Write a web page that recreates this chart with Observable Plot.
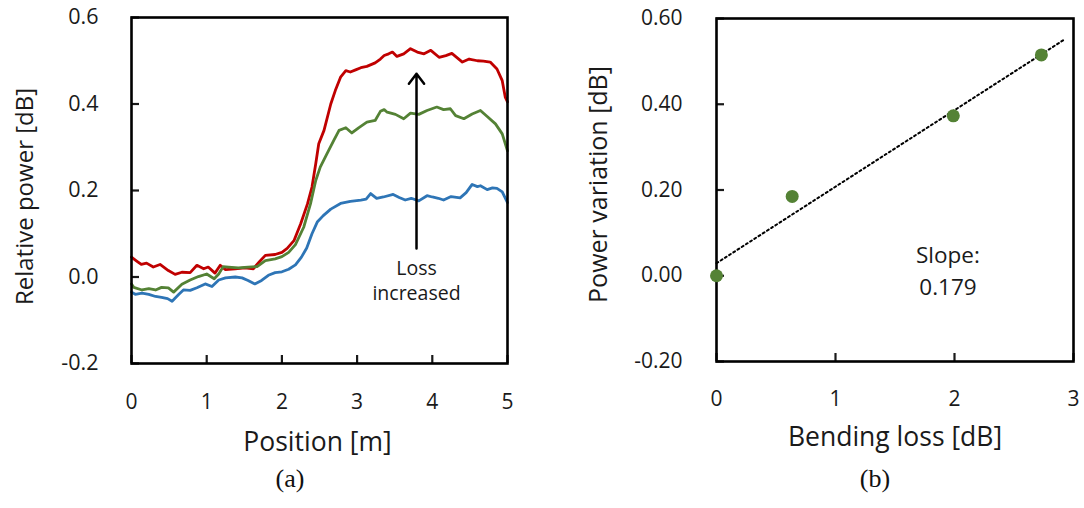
<!DOCTYPE html>
<html>
<head>
<meta charset="utf-8">
<script src="https://cdn.jsdelivr.net/npm/d3@7"></script>
<script src="https://cdn.jsdelivr.net/npm/@observablehq/plot@0.6"></script>
<style>
  body { margin: 0; background: #fff; }
  #wrap { position: relative; width: 1084px; height: 508px; overflow: hidden; background: #fff; }
  #a { position: absolute; left: 0; top: 0; }
  #b { position: absolute; left: 540px; top: 0; }
  .cap { position: absolute; top: 464px; font-family: "Liberation Serif", "Times New Roman", serif; font-size: 26px; line-height: 30px; color: #111; transform: translateX(-50%); }
</style>
</head>
<body>
<div id="wrap">
  <div id="a"></div>
  <div id="b"></div>
  <div class="cap" style="left:290px">(a)</div>
  <div class="cap" style="left:875px">(b)</div>
</div>
<script>
// ---------- Panel (a): relative power vs position ----------
const redX = [0, 0.06, 0.13, 0.2, 0.29, 0.38, 0.49, 0.58, 0.67, 0.78, 0.87, 0.96, 1.02, 1.11, 1.18, 1.25, 1.38, 1.51, 1.62, 1.71, 1.78, 1.91, 2.0, 2.07, 2.16, 2.25, 2.34, 2.4, 2.45, 2.49, 2.56, 2.65, 2.71, 2.78, 2.85, 2.91, 2.98, 3.05, 3.13, 3.24, 3.31, 3.36, 3.42, 3.47, 3.53, 3.62, 3.71, 3.8, 3.89, 3.98, 4.09, 4.18, 4.26, 4.4, 4.49, 4.6, 4.68, 4.77, 4.86, 4.93, 4.97, 5.0];
const redY = [0.046, 0.038, 0.029, 0.032, 0.023, 0.029, 0.015, 0.006, 0.011, 0.01, 0.027, 0.019, 0.023, 0.009, 0.027, 0.017, 0.019, 0.021, 0.019, 0.037, 0.05, 0.052, 0.057, 0.066, 0.084, 0.123, 0.169, 0.208, 0.262, 0.308, 0.339, 0.4, 0.431, 0.462, 0.477, 0.474, 0.479, 0.484, 0.487, 0.495, 0.504, 0.512, 0.516, 0.52, 0.51, 0.516, 0.528, 0.52, 0.516, 0.524, 0.508, 0.512, 0.517, 0.497, 0.504, 0.5, 0.499, 0.497, 0.481, 0.454, 0.416, 0.405];

const greenX = [0, 0.03, 0.14, 0.23, 0.32, 0.4, 0.49, 0.56, 0.67, 0.78, 0.89, 1.0, 1.1, 1.16, 1.22, 1.29, 1.42, 1.55, 1.67, 1.78, 1.91, 2.0, 2.09, 2.18, 2.29, 2.38, 2.45, 2.51, 2.6, 2.69, 2.76, 2.85, 2.93, 3.02, 3.13, 3.24, 3.31, 3.36, 3.4, 3.51, 3.62, 3.71, 3.82, 3.93, 4.06, 4.15, 4.24, 4.31, 4.42, 4.53, 4.64, 4.73, 4.84, 4.93, 5.0];
const greenY = [-0.016, -0.024, -0.03, -0.027, -0.03, -0.024, -0.025, -0.035, -0.017, -0.007, 0.001, 0.007, -0.004, 0.007, 0.024, 0.023, 0.021, 0.023, 0.024, 0.038, 0.042, 0.047, 0.057, 0.075, 0.115, 0.169, 0.223, 0.254, 0.285, 0.316, 0.339, 0.345, 0.333, 0.345, 0.358, 0.362, 0.383, 0.387, 0.381, 0.376, 0.366, 0.379, 0.376, 0.385, 0.393, 0.387, 0.389, 0.373, 0.366, 0.377, 0.385, 0.371, 0.354, 0.331, 0.292];

const blueX = [0, 0.05, 0.14, 0.23, 0.32, 0.4, 0.48, 0.54, 0.63, 0.69, 0.78, 0.87, 0.98, 1.07, 1.16, 1.25, 1.38, 1.47, 1.55, 1.64, 1.73, 1.82, 1.91, 2.0, 2.09, 2.18, 2.26, 2.33, 2.4, 2.47, 2.55, 2.65, 2.78, 2.91, 3.05, 3.12, 3.18, 3.26, 3.35, 3.48, 3.56, 3.64, 3.72, 3.82, 3.93, 4.0, 4.08, 4.15, 4.25, 4.37, 4.45, 4.53, 4.6, 4.64, 4.73, 4.8, 4.86, 4.93, 5.0];
const blueY = [-0.035, -0.04, -0.037, -0.04, -0.045, -0.047, -0.05, -0.056, -0.04, -0.03, -0.031, -0.025, -0.016, -0.022, -0.007, -0.002, 0.0, -0.002, -0.008, -0.016, -0.008, 0.004, 0.01, 0.012, 0.018, 0.028, 0.046, 0.067, 0.1, 0.127, 0.142, 0.157, 0.17, 0.175, 0.178, 0.18, 0.193, 0.182, 0.185, 0.191, 0.184, 0.178, 0.182, 0.176, 0.188, 0.185, 0.182, 0.178, 0.186, 0.183, 0.195, 0.214, 0.209, 0.211, 0.202, 0.206, 0.205, 0.197, 0.172];

const seriesNames = ["highest loss", "middle loss", "lowest loss"];
const seriesColors = ["#C00000", "#548235", "#2E75B6"];

const positionTicks = [0, 1, 2, 3, 4, 5];
const relPowerTicks = [-0.2, 0, 0.2, 0.4, 0.6];

// annotation: arrow and text (data units)
const arrowPos = 3.79, arrowFrom = 0.066, arrowTo = 0.47;
const lossLabel = "Loss\nincreased";
const lossLabelY = -0.005;

const rows = [];
[[redX, redY], [greenX, greenY], [blueX, blueY]].forEach(([xs, ys], k) => {
  xs.forEach((x, i) => rows.push({series: seriesNames[k], x, y: ys[i]}));
});

const font = "'Open Sans', 'Noto Sans', sans-serif";
const ink = "#1a1a1a";

const left = Plot.plot({
  width: 540, height: 508,
  marginLeft: 131, marginRight: 33, marginTop: 17, marginBottom: 145,
  style: {fontFamily: font, fontSize: "21px", color: ink, background: "transparent", overflow: "visible"},
  x: {domain: [0, 5]},
  y: {domain: [-0.2, 0.6]},
  color: {domain: seriesNames, range: seriesColors},
  marks: [
    Plot.axisX(positionTicks, {tickSize: -8, tickPadding: 39, strokeWidth: 2.2, tickFormat: d => String(d), fontSize: 21, label: null, lineAnchor: "top"}),
    Plot.axisY(relPowerTicks, {tickSize: -8, tickPadding: 41, strokeWidth: 2.2, tickFormat: d => d.toFixed(1), fontSize: 21.5, label: null}),
    Plot.line(rows, {x: "x", y: "y", z: "series", stroke: "series", strokeWidth: 2.8, curve: "linear"}),
    Plot.frame({stroke: "#000", strokeWidth: 2.6}),
    Plot.arrow([{x: arrowPos, y1: arrowFrom, y2: arrowTo}], {x1: "x", x2: "x", y1: "y1", y2: "y2", stroke: "#000", strokeWidth: 2.5, headLength: 7.5, headAngle: 75}),
    Plot.text([{x: arrowPos, y: lossLabelY, t: lossLabel}], {x: "x", y: "y", text: "t", fontSize: 19.5, lineHeight: 1.32, fill: ink}),
    Plot.text(["Relative power [dB]"], {frameAnchor: "left", textAnchor: "middle", rotate: -90, dx: -106, dy: 6, fontSize: 24, fill: ink}),
    Plot.text(["Position [m]"], {frameAnchor: "bottom", dx: -2, dy: 87, fontSize: 26.5, fill: ink})
  ]
});
document.getElementById("a").appendChild(left);

// ---------- Panel (b): power variation vs bending loss ----------
const bendingLoss = [0, 0.636, 1.99, 2.73];
const powerVariation = [0, 0.185, 0.373, 0.515];
const bendingTicks = [0, 1, 2, 3];
const powerTicks = [-0.2, 0, 0.2, 0.4, 0.6];
const trendEndX = 2.92;
const slopeLabel = "Slope:\n0.179";
const slopeLabelX = 1.945, slopeLabelY = 0.016;

const pts = bendingLoss.map((x, i) => ({x, y: powerVariation[i]}));
// least-squares trend line through the measured points
const mx = d3.mean(bendingLoss), my = d3.mean(powerVariation);
const slope = d3.sum(pts, p => (p.x - mx) * (p.y - my)) / d3.sum(pts, p => (p.x - mx) ** 2);
const intercept = my - slope * mx;
const trend = [0, trendEndX].map(x => ({x, y: intercept + slope * x}));

const right = Plot.plot({
  width: 544, height: 508,
  marginLeft: 176, marginRight: 11, marginTop: 18, marginBottom: 147,
  style: {fontFamily: font, fontSize: "21px", color: ink, background: "transparent", overflow: "visible"},
  x: {domain: [0, 3]},
  y: {domain: [-0.2, 0.6]},
  marks: [
    Plot.axisX(bendingTicks, {tickSize: -8, tickPadding: 38, strokeWidth: 2.2, tickFormat: d => String(d), fontSize: 21, label: null, lineAnchor: "top"}),
    Plot.axisY(powerTicks, {tickSize: -8, tickPadding: 42, strokeWidth: 2.2, tickFormat: d => d.toFixed(2), fontSize: 21, label: null}),
    Plot.line(trend, {x: "x", y: "y", stroke: "#000", strokeWidth: 2, strokeDasharray: "2,3"}),
    Plot.frame({stroke: "#000", strokeWidth: 2.6}),
    Plot.dot(pts, {x: "x", y: "y", r: 6.5, fill: "#548235", stroke: "none"}),
    Plot.text([{x: slopeLabelX, y: slopeLabelY, t: slopeLabel}], {x: "x", y: "y", text: "t", fontSize: 22.5, lineHeight: 1.42, fill: ink}),
    Plot.text(["Power variation [dB]"], {frameAnchor: "left", textAnchor: "middle", rotate: -90, dx: -118, dy: -5.5, fontSize: 25, fill: ink}),
    Plot.text(["Bending loss [dB]"], {frameAnchor: "bottom", dy: 84, fontSize: 26.5, fill: ink})
  ]
});
document.getElementById("b").appendChild(right);
</script>
</body>
</html>
